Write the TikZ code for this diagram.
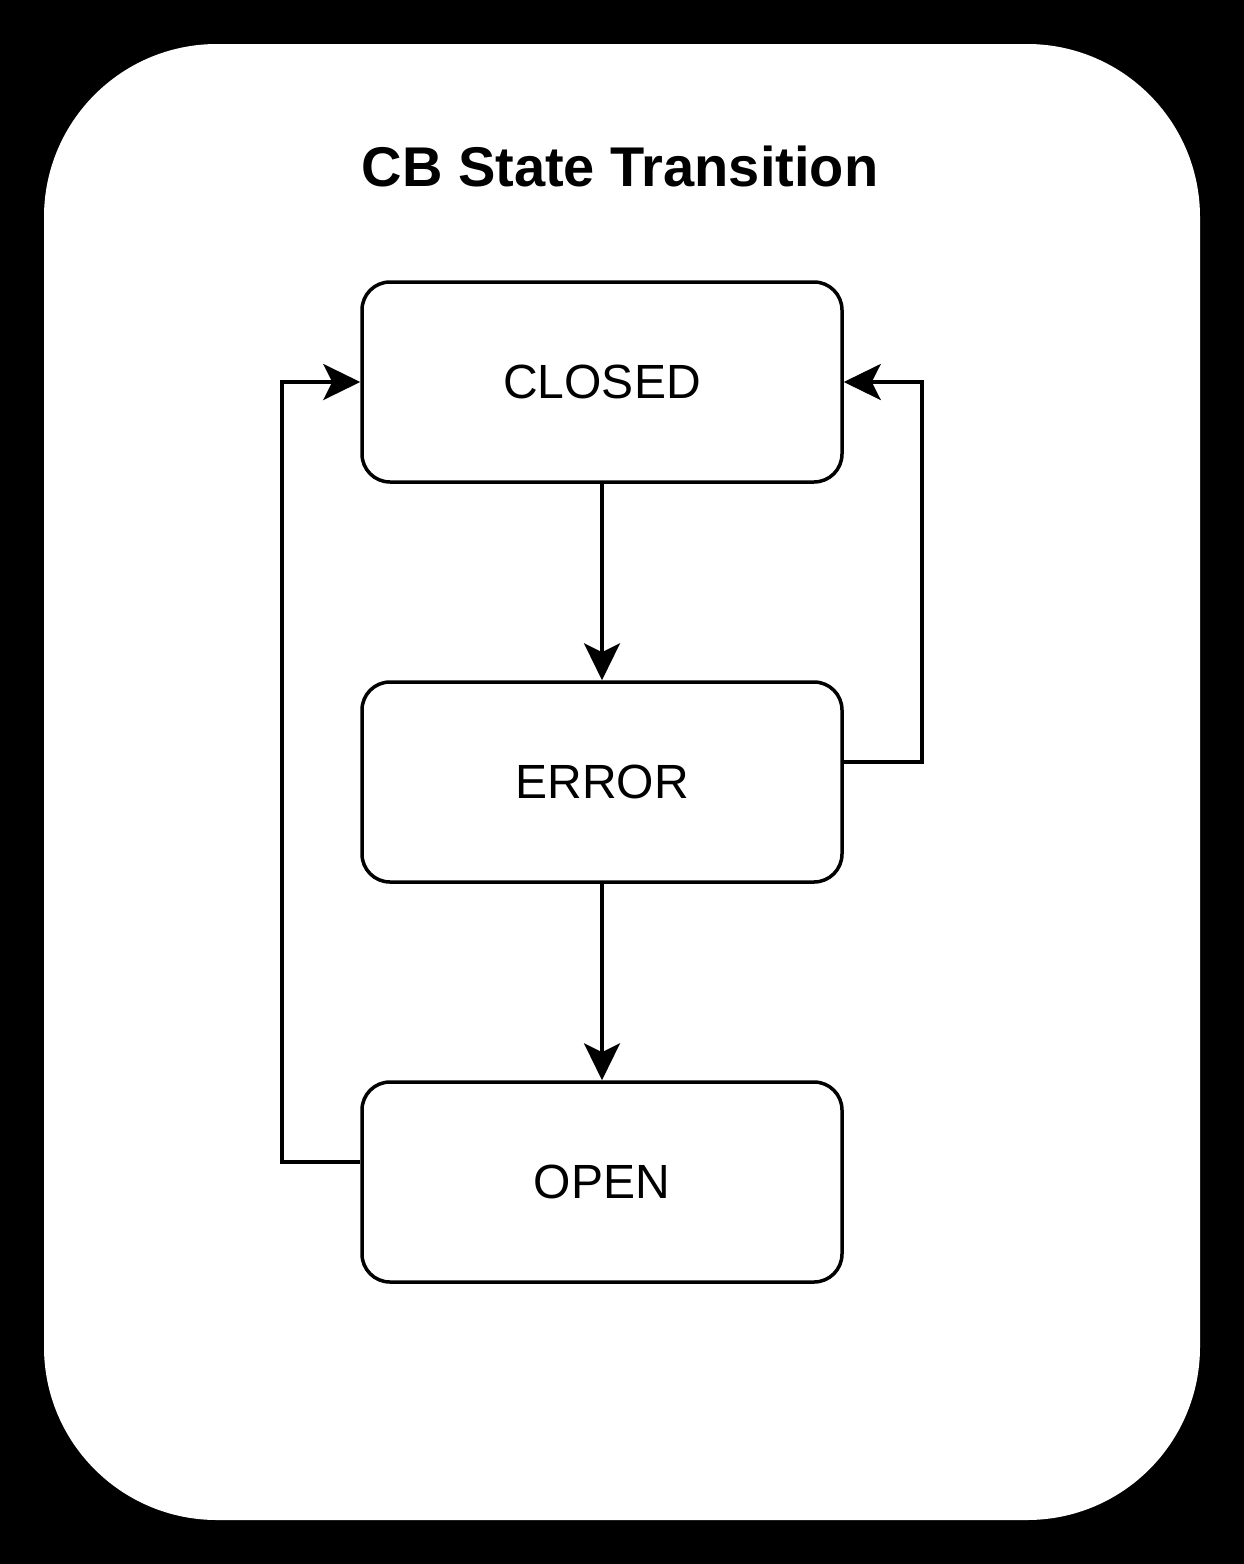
\documentclass[tikz,border=0pt]{standalone}
\usepackage{fontspec}
\setmainfont{Liberation Sans}
\usetikzlibrary{arrows.meta}
\begin{document}
\begin{tikzpicture}[x=1pt,y=-1pt,
  state/.style={draw=black, line width=3.5pt, rounded corners=28pt, minimum width=480pt, minimum height=200pt, inner sep=0pt, fill=white, font=\fontsize{48pt}{56pt}\selectfont},
  conn/.style={draw=black, line width=3.5pt, -{Stealth[length=37pt,width=36pt,inset=9pt]}}]
  \useasboundingbox (0,0) rectangle (1244,1564);
  \fill[black] (0,0) rectangle (1244,1564);
  \fill[white, rounded corners=173pt] (44,44) rectangle (1200,1520);
  \node[font=\fontsize{56pt}{64pt}\selectfont\bfseries, anchor=base] (title) at (620,186) {CB State Transition};
  \node[state] (closed) at (602,382) {CLOSED};
  \node[state] (error) at (602,782) {ERROR};
  \node[state] (open) at (602,1182) {OPEN};
  \draw[conn] (closed.south) -- (error.north);
  \draw[conn] (error.south) -- (open.north);
  \draw[conn] (error.east |- 0,762) -- (922,762) -- (922,382) -- (closed.east);
  \draw[conn] (open.west |- 0,1162) -- (282,1162) -- (282,382) -- (closed.west);
\end{tikzpicture}
\end{document}
